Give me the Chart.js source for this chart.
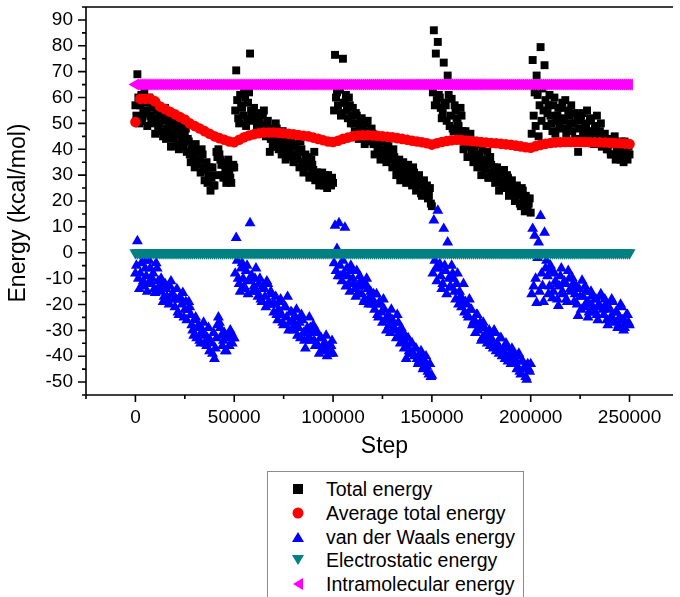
<!DOCTYPE html>
<html lang="en">
<head>
  <meta charset="UTF-8">
  <title>Energy vs Step</title>
  <script src="https://cdn.jsdelivr.net/npm/chart.js"></script>
  <style>
    body {
      margin: 0;
      background: #ffffff;
      font-family: "Liberation Sans", Arial, sans-serif;
    }
    #wrap {
      position: relative;
      width: 680px;
      height: 597px;
      overflow: hidden;
    }
    #legend {
      position: absolute;
      left: 267px;
      top: 471px;
      width: 257px;
      height: 150px;
      border: 1px solid #8c8c8c;
      box-sizing: border-box;
    }
    .row {
      position: absolute;
      left: 0;
      height: 24px;
      line-height: 24px;
      font-size: 19.5px;
      color: #000;
      white-space: nowrap;
    }
    .row .txt { position: absolute; left: 58px; top: 0; }
    .mk { position: absolute; left: 30px; top: 12px; transform: translate(-50%, -50%); }
    .mk.square { width: 10px; height: 10px; background: #000; }
    .mk.circle { width: 11px; height: 11px; border-radius: 50%; background: #ff0000; }
    .mk.up { width: 0; height: 0; border-left: 6px solid transparent; border-right: 6px solid transparent; border-bottom: 10px solid #0000ff; }
    .mk.down { width: 0; height: 0; border-left: 6px solid transparent; border-right: 6px solid transparent; border-top: 10px solid #008080; }
    .mk.left { width: 0; height: 0; border-top: 6px solid transparent; border-bottom: 6px solid transparent; border-right: 10px solid #ff00ff; }
  </style>
</head>
<body>
  <div id="wrap">
    <canvas id="energyChart" width="680" height="460"></canvas>
    <div id="legend"></div>
  </div>

  <script>
    // frames every 1000 steps (0 .. 250000) and the frames in between (500 .. 249500)
    const steps = Array.from({ length: 251 }, (_, i) => i * 1000);
    const halfSteps = Array.from({ length: 250 }, (_, i) => 500 + i * 1000);
    // running average sampled every 2500 steps
    const avgSteps = Array.from({ length: 101 }, (_, i) => i * 2500);

    const totalEnergy = [
      57, 69, 50, 61, 54, 58, 49, 60, 52, 56,
      46, 55, 50, 53, 45, 56, 48, 51, 41, 52,
      46, 49, 40, 50, 43, 47, 39, 43, 35, 41,
      33, 39, 36, 31, 38, 28, 35, 30, 24, 33,
      26, 39, 40, 36, 30, 34, 27, 36, 29, 33,
      33, 70.5, 52, 61, 56, 62, 49, 58, 77, 53,
      56, 46, 54, 50, 47, 55, 45, 51, 39, 48,
      43, 50, 41, 46, 38, 44, 36, 42, 39, 45,
      35, 41, 37, 33, 40, 31, 38, 34, 29, 36,
      32, 28, 31, 26, 29, 27, 30, 25, 28, 26,
      27, 76.5, 62, 65, 53, 75, 58, 55, 60, 50,
      56, 47, 53, 44, 51, 48, 42, 50, 45, 43,
      46, 38, 44, 41, 36, 43, 39, 35, 41, 37,
      33, 37, 30, 35, 28, 33, 31, 27, 34, 29,
      26, 31, 24, 29, 26, 22, 28, 24, 21, 25,
      18, 86, 77, 81.5, 60, 52, 73.5, 57, 68.5, 49,
      59.5, 47, 55, 50, 46, 53, 40, 47, 37, 44,
      39, 35, 42, 33, 38, 30, 36, 32, 39, 29,
      34, 30, 27, 33, 24, 31, 28, 25, 30, 22,
      27, 24, 20, 26, 22, 18, 24, 16, 21, 19,
      15.5, 74.5, 62, 68.5, 45, 79.5, 63.5, 72.5, 49, 57,
      53, 47, 60, 51, 56, 48, 58, 52, 46, 55,
      50, 47, 54, 44, 39, 51, 54, 45, 49, 43,
      52, 46, 42, 49, 44, 47, 41, 45, 43, 40,
      44, 38, 42, 36, 41, 37, 43, 35, 39, 36,
      38
    ];

    const totalEnergyHalf = [
      53, 60, 57, 51, 62, 55, 59, 53, 58, 50,
      52, 49, 54, 47, 51, 44, 53, 46, 49, 44,
      51, 42, 47, 45, 41, 48, 44, 38, 40, 37,
      42, 34, 36, 40, 33, 32, 27, 33, 29, 26,
      30, 37, 38, 34, 29, 32, 35, 31, 27, 34,
      55, 59, 50, 57, 53, 60, 52, 62, 55, 51,
      53, 49, 51, 48, 53, 46, 49, 47, 44, 41,
      45, 48, 40, 43, 47, 41, 40, 37, 44, 38,
      42, 36, 39, 43, 35, 35, 33, 37, 30, 34,
      39, 31, 29, 27, 31, 26, 28, 30, 27, 29,
      55, 60, 57, 63, 54, 58, 61, 52, 57, 53,
      50, 54, 46, 49, 52, 45, 47, 51, 44, 48,
      42, 42, 40, 45, 38, 40, 37, 42, 39, 36,
      40, 34, 32, 36, 30, 35, 29, 32, 30, 28,
      33, 28, 27, 30, 23, 27, 25, 26, 22, 19,
      62, 57, 59, 61, 56, 54, 58, 51, 61, 53,
      48, 57, 52, 49, 56, 47, 43, 45, 41, 46,
      37, 41, 38, 36, 34, 40, 33, 35, 29, 37,
      31, 33, 29, 30, 28, 26, 32, 27, 29, 24,
      28, 25, 23, 23, 19, 25, 20, 22, 17, 21,
      46, 53, 49, 61, 57, 51, 55, 59, 54, 61,
      50, 57, 46, 53, 49, 56, 51, 59, 48, 53,
      57, 50, 44, 52, 48, 53, 46, 50, 55, 47,
      51, 44, 48, 53, 45, 50, 43, 46, 40, 44,
      38, 42, 45, 39, 41, 36, 40, 43, 37, 41
    ];

    const avgEnergy = [
      50.5, 59.5, 59.5, 59.5, 58.5, 56.5, 55.5, 54.5, 53.5, 52.5,
      51.5, 50, 49, 48, 47, 46, 45, 44.3, 43.7, 43,
      42.7, 43.7, 44.6, 45.3, 45.8, 46.2, 46.5, 46.5, 46.5, 46.4,
      46.2, 46, 45.8, 45.5, 45.2, 45, 44.5, 44, 43.5, 43,
      42.8, 43.3, 44, 44.5, 45, 45.3, 45.4, 45.4, 45.3, 45.2,
      45, 44.8, 44.6, 44.3, 44, 43.7, 43.3, 43, 42.7, 42.3,
      41.8, 42.3, 42.8, 43.2, 43.5, 43.7, 43.6, 43.4, 43.2, 43,
      42.8, 42.6, 42.4, 42.3, 42.1, 41.9, 41.7, 41.4, 41.1, 40.8,
      40.6, 41.2, 41.7, 42.1, 42.4, 42.6, 42.7, 42.8, 42.8, 42.8,
      42.8, 42.8, 42.7, 42.7, 42.7, 42.6, 42.5, 42.4, 42.3, 42.2,
      42
    ];

    const vdwEnergy = [
      -8, 4.5, -14, -4, -11, -6, -15, -3, -12, -8,
      -15.5, -6, -13, -10, -19, -12, -17, -20, -11, -16,
      -21, -14, -24, -18, -15.5, -22, -26, -19, -24, -30,
      -26, -33, -28, -35, -30, -32, -36, -29, -34, -39,
      -41, -33, -25, -29, -36, -31, -38, -33, -30, -35,
      -33, 5.8, -10, -15, -4, -13, -7, -16, 11.5, -9,
      -13, -6, -17, -10, -19, -14, -21, -12, -20, -16,
      -23, -17, -26, -19, -24, -28, -21, -17, -27, -23,
      -30, -25, -32, -27, -24, -31, -37, -29, -25, -34,
      -28, -36, -31, -39, -33, -37, -35, -40, -38, -36,
      -39, 10.5, 1.5, 11.5, -9, -3, 9.7, -6, -12, -5,
      -10, -14, -7, -16, -11, -13, -18, -10, -20, -15,
      -18, -22, -16, -25, -20, -27, -22, -30, -24, -31,
      -26, -29, -33, -27, -35, -31, -37, -41, -33, -39,
      -35, -40, -37, -43, -39, -41, -44, -40, -46, -43,
      -47.5, 12.5, -6, 16.3, -4.3, -14, 9.3, -7, 4, -13.5,
      -5, -10, -18, -8, -15, -21, -12, -19, -24, -18,
      -22, -27, -31, -24, -29, -34, -27, -32, -35, -30,
      -33, -37, -31, -35, -39, -33, -38, -41, -36, -40,
      -43, -38, -41, -45, -39, -47, -42, -44, -49, -45,
      -43, 9.3, 6.6, -19.4, 4, 14.3, -12.8, 7.8, -3, -16,
      -5, -17.5, -8, -12, -20.5, -9, -15, -11, -18, -7,
      -14, -9.7, -19, -13, -24.4, -17, -10.8, -21, -15, -25,
      -20, -16.7, -23, -18, -26, -21, -17, -24, -20, -28,
      -22, -18, -26, -23, -29, -25, -21, -30, -27, -24,
      -28
    ];

    const vdwEnergyHalf = [
      -5, -10, -8, -13, -3, -9, -12, -6, -10, -14,
      -4, -11, -15, -12, -17, -14, -19, -13, -16, -18,
      -18, -23, -17, -20, -25, -19, -22, -21, -28, -32,
      -25, -29, -34, -31, -27, -35, -33, -38, -35, -31,
      -37, -28, -27, -32, -34, -38, -32, -36, -31, -33,
      -8, -3, -12, -6, -10, -14, -5, -11, -9, -15,
      -10, -15, -12, -18, -13, -17, -11, -19, -15, -20,
      -20, -24, -22, -18, -27, -21, -25, -30, -23, -26,
      -28, -22, -29, -33, -26, -34, -30, -33, -29, -31,
      -34, -30, -36, -33, -38, -35, -32, -37, -39, -34,
      -4, -7, -9, -5, -11, -8, -13, -9, -15, -7,
      -12, -17, -13, -9, -16, -19, -12, -14, -17, -20,
      -16, -20, -24, -19, -23, -18, -26, -25, -28, -22,
      -27, -30, -24, -32, -29, -34, -32, -36, -38, -35,
      -39, -37, -41, -42, -38, -45, -42, -44, -47, -48,
      -8, -3, -11, -6, -9, -12, -5, -16, -10, -13,
      -8, -15, -12, -20, -17, -18, -23, -20, -25, -22,
      -28, -26, -24, -30, -27, -33, -29, -31, -32, -36,
      -34, -30, -38, -36, -33, -40, -37, -35, -42, -39,
      -37, -41, -43, -40, -46, -42, -45, -48, -43, -46,
      -16, -13, -10, -2, -15, -8, -19, -6, -9, -13,
      -7, -15, -11, -18, -13, -6, -16, -12, -19, -10,
      -15, -12, -16, -20, -14, -22, -17, -13, -19, -23,
      -15, -21, -18, -24, -20, -16, -22, -18, -26, -21,
      -25, -19, -27, -23, -28, -20, -26, -29, -24, -27
    ];

    // both stay flat over the whole run
    const elecLevel = 0;
    const intraLevel = 65;

    const xTickValues = [0, 50000, 100000, 150000, 200000, 250000];
    const yTickValues = [-50, -40, -30, -20, -10, 0, 10, 20, 30, 40, 50, 60, 70, 80, 90];
    const seriesLabels = ['Total energy', 'Average total energy', 'van der Waals energy', 'Electrostatic energy', 'Intramolecular energy'];
    const markerKinds = ['square', 'circle', 'up', 'down', 'left'];

    const FONT = '"Liberation Sans", Arial, sans-serif';

    const pts = (xs, ys) => xs.map((x, i) => ({ x: x, y: ys[i] }));

    // axis lines, minor/major tick marks and axis titles
    const axisFrame = {
      id: 'axisFrame',
      afterDraw(chart) {
        const { ctx, chartArea: a } = chart;
        const xs = chart.scales.x, ys = chart.scales.y;
        ctx.save();
        ctx.strokeStyle = '#000';
        ctx.lineWidth = 1.6;
        ctx.beginPath();
        ctx.moveTo(a.left, a.top); ctx.lineTo(a.right, a.top);
        ctx.moveTo(a.left, a.top); ctx.lineTo(a.left, a.bottom); ctx.lineTo(a.right, a.bottom);
        for (let v = ys.min; v <= ys.max; v += 5) {
          const p = ys.getPixelForValue(v);
          const len = v % 10 === 0 ? 8 : 4;
          ctx.moveTo(a.left - len, p); ctx.lineTo(a.left, p);
        }
        for (let v = xs.min; v <= xs.max; v += 25000) {
          const p = xs.getPixelForValue(v);
          const len = v % 50000 === 0 ? 7 : 4;
          ctx.moveTo(p, a.bottom); ctx.lineTo(p, a.bottom + len);
        }
        ctx.stroke();

        ctx.fillStyle = '#000';
        ctx.font = '23px ' + FONT;
        ctx.textAlign = 'center';
        ctx.textBaseline = 'alphabetic';
        ctx.fillText('Step', (a.left + a.right) / 2 + 5, a.bottom + 58);
        ctx.translate(25, (a.top + a.bottom) / 2 + 12);
        ctx.rotate(-Math.PI / 2);
        ctx.fillText('Energy (kcal/mol)', 0, 0);
        ctx.restore();
      }
    };

    new Chart(document.getElementById('energyChart'), {
      type: 'scatter',
      data: {
        datasets: [
          {
            label: seriesLabels[0], order: 5,
            data: pts(steps, totalEnergy).concat(pts(halfSteps, totalEnergyHalf)),
            pointStyle: 'rect', pointRadius: 5.6, pointBackgroundColor: '#000000', pointBorderWidth: 0
          },
          {
            label: seriesLabels[1], data: pts(avgSteps, avgEnergy), order: 4,
            pointStyle: 'circle', pointRadius: 5.3, pointBackgroundColor: '#ff0000', pointBorderWidth: 0
          },
          {
            label: seriesLabels[2], order: 3,
            data: pts(steps, vdwEnergy).concat(pts(halfSteps, vdwEnergyHalf)),
            pointStyle: 'triangle', pointRadius: 6.3, pointBackgroundColor: '#0000ff', pointBorderWidth: 0
          },
          {
            label: seriesLabels[3], data: steps.map(s => ({ x: s, y: elecLevel })), order: 2,
            pointStyle: 'triangle', pointRotation: 180, pointRadius: 7, pointBackgroundColor: '#008080', pointBorderWidth: 0
          },
          {
            label: seriesLabels[4], data: steps.map(s => ({ x: s, y: intraLevel })), order: 1,
            pointStyle: 'triangle', pointRotation: 270, pointRadius: 6.9, pointBackgroundColor: '#ff00ff', pointBorderWidth: 0
          }
        ]
      },
      options: {
        responsive: false,
        animation: false,
        events: [],
        layout: { padding: { top: 7, left: 0, right: 0, bottom: 0 } },
        plugins: { legend: { display: false }, tooltip: { enabled: false } },
        scales: {
          x: {
            type: 'linear',
            min: -25000,
            max: 272000,
            afterBuildTicks: s => { s.ticks = xTickValues.map(v => ({ value: v })); },
            afterFit: s => { s.height = 65; s.paddingLeft = 0; s.paddingRight = 0; },
            grid: { display: false, drawTicks: false },
            border: { display: false },
            ticks: {
              color: '#000', padding: 11, maxRotation: 0, autoSkip: false,
              font: { family: FONT, size: 19 },
              callback: v => String(v)
            }
          },
          y: {
            type: 'linear',
            min: -55,
            max: 95,
            afterBuildTicks: s => { s.ticks = yTickValues.map(v => ({ value: v })); },
            afterFit: s => { s.width = 86; s.paddingTop = 0; s.paddingBottom = 0; },
            grid: { display: false, drawTicks: false },
            border: { display: false },
            ticks: {
              color: '#000', padding: 13, autoSkip: false,
              font: { family: FONT, size: 19 },
              callback: v => String(v)
            }
          }
        }
      },
      plugins: [axisFrame]
    });

    // legend box below the plot
    const legend = document.getElementById('legend');
    seriesLabels.forEach((name, i) => {
      const row = document.createElement('div');
      row.className = 'row';
      row.style.top = (5 + i * 23.75) + 'px';
      row.innerHTML = '<div class="mk ' + markerKinds[i] + '"></div><span class="txt">' + name + '</span>';
      legend.appendChild(row);
    });
  </script>
</body>
</html>
